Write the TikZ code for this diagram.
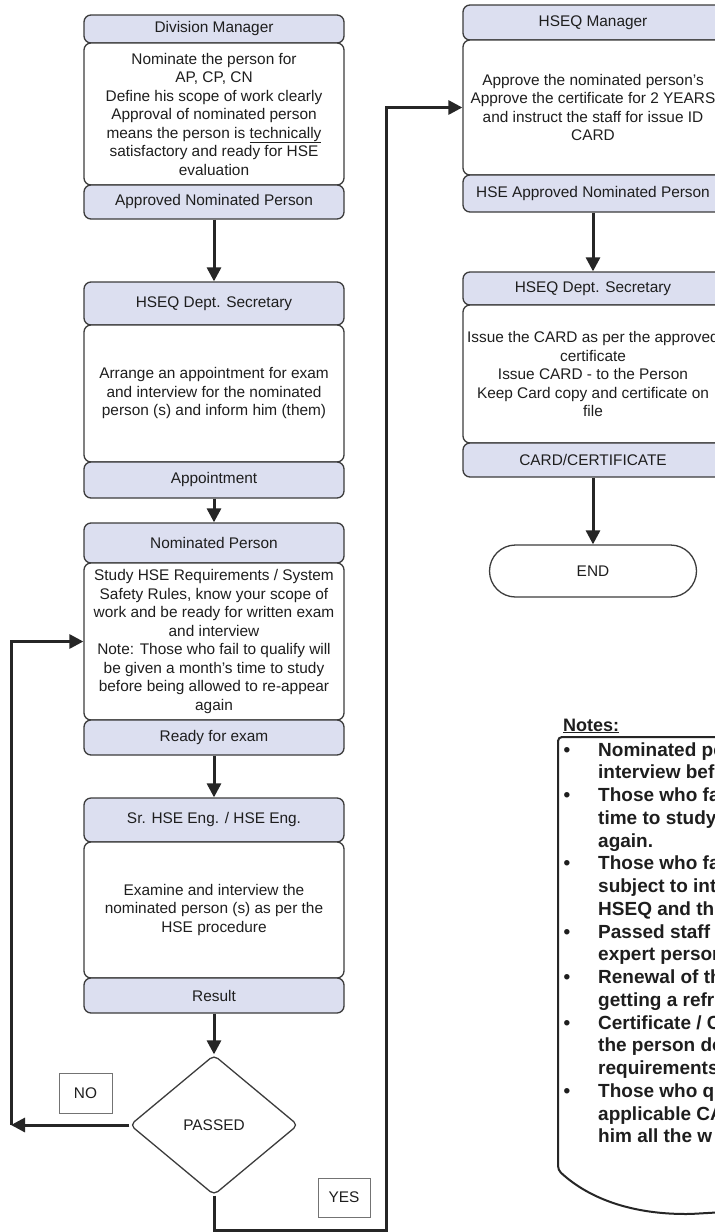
\documentclass[tikz,border=0pt]{standalone}
\usepackage{fontspec}
\setmainfont{Liberation Sans}
\usetikzlibrary{arrows.meta,shapes.geometric}
\definecolor{hdrfill}{RGB}{220,223,240}
\definecolor{edge}{RGB}{60,60,60}
\definecolor{ink}{RGB}{30,30,30}
\tikzset{
  part/.style={draw=edge, line width=1.3pt, rounded corners=7pt, inner sep=0pt, align=center, text=ink,
    font=\fontsize{15.4}{18.5}\selectfont},
  hdr/.style={part, fill=hdrfill},
  bodybox/.style={part, fill=white},
  lcol/.style={minimum width=260pt},
  flow/.style={line width=3pt, draw=black!85, -{Triangle[length=14pt,width=14pt]}},
  tag/.style={draw=black!55, line width=0.8pt, inner sep=0pt, text=ink, font=\fontsize{15.4}{18.5}\selectfont},
  notetxt/.style={anchor=base west, inner sep=0pt, text=ink, font=\bfseries\fontsize{19}{22.75}\selectfont},
  bullet/.style={anchor=base, inner sep=0pt, text=ink, font=\bfseries\fontsize{19}{22}\selectfont},
}
\begin{document}
\begin{tikzpicture}[x=1pt,y=-1pt]
\useasboundingbox (0,0) rectangle (715,1232);
\clip (0,0) rectangle (715,1232);
\fill[white] (0,0) rectangle (715,1232);

% ---------- left column ----------
\node[hdr, lcol, minimum height=28pt] (dmh) at (214,29) {Division Manager};
\node[bodybox, lcol, minimum height=142pt] (dmb) at (214,114) {Nominate the person for\\AP, CP, CN\\Define his scope of work clearly\\Approval of nominated person\\means the person is \underline{technically}\\satisfactory and ready for HSE\\evaluation};
\node[hdr, lcol, minimum height=34pt] (dmf) at (214,202) {Approved Nominated Person};

\node[hdr, lcol, minimum height=43pt] (lsh) at (214,303.5) {HSEQ Dept. Secretary};
\node[bodybox, lcol, minimum height=137pt] (lsb) at (214,393.5) {Arrange an appointment for exam\\and interview for the nominated\\person (s) and inform him (them)};
\node[hdr, lcol, minimum height=36pt] (lsf) at (214,480) {Appointment};

\node[hdr, lcol, minimum height=40pt] (nph) at (214,543) {Nominated Person};
\node[bodybox, lcol, minimum height=157pt] (npb) at (214,641.5) {Study HSE Requirements / System\\Safety Rules, know your scope of\\work and be ready for written exam\\and interview\\Note: Those who fail to qualify will\\be given a month's time to study\\before being allowed to re-appear\\again};
\node[hdr, lcol, minimum height=35pt] (npf) at (214,737.5) {Ready for exam};

\node[hdr, lcol, minimum height=44pt] (seh) at (214,820) {Sr. HSE Eng. / HSE Eng.};
\node[bodybox, lcol, minimum height=136pt] (seb) at (214,910) {Examine and interview the\\nominated person (s) as per the\\HSE procedure};
\node[hdr, lcol, minimum height=35pt] (sef) at (214,995.5) {Result};

\node[draw=edge, line width=1.3pt, diamond, minimum width=168pt, minimum height=140pt, inner sep=0pt,
  rounded corners=5pt, fill=white, text=ink, font=\fontsize{15.4}{18.5}\selectfont] (dia) at (214,1125) {PASSED};

\node[tag, minimum width=53pt, minimum height=40pt] (no) at (85.5,1093) {NO};
\node[tag, minimum width=52pt, minimum height=39pt] (yes) at (344,1197.5) {YES};

% ---------- right column ----------
\node[hdr, lcol, minimum height=35pt] (hmh) at (593,22.5) {HSEQ Manager};
\node[bodybox, lcol, minimum height=135pt] (hmb) at (593,107.5) {Approve the nominated person's\\Approve the certificate for 2 YEARS\\and instruct the staff for issue ID\\CARD};
\node[hdr, lcol, minimum height=37pt] (hmf) at (593,193.5) {HSE Approved Nominated Person};

\node[hdr, lcol, minimum height=33pt] (rsh) at (593,288.5) {HSEQ Dept. Secretary};
\node[bodybox, lcol, minimum height=138pt] (rsb) at (593,374) {Issue the CARD as per the approved\\certificate\\Issue CARD - to the Person\\Keep Card copy and certificate on\\file};
\node[hdr, lcol, minimum height=34pt] (rsf) at (593,460) {CARD/CERTIFICATE};

\node[part, rounded corners=26pt, minimum width=207pt, minimum height=52pt, fill=white] (end) at (593,571) {END};

% ---------- connectors ----------
\draw[flow] (dmf.south) -- (lsh.north);
\draw[flow] (lsf.south) -- (nph.north);
\draw[flow] (npf.south) -- (seh.north);
\draw[flow] (sef.south) -- (dia.north);
\coordinate (nol) at (11,1125);
\draw[flow] (dia.west) -- (nol);
\draw[flow] (nol) |- (npb.west);
\coordinate (yb) at (214,1230);
\coordinate (yr) at (386,1230);
\coordinate (yt) at (386,107.5);
\draw[flow] (dia.south) -- (yb) -- (yr) -- (yt) -- (hmb.west);
\draw[flow] (hmf.south) -- (rsh.north);
\draw[flow] (rsf.south) -- (end.north);

% ---------- notes ----------
\node[anchor=base west, inner sep=0pt, text=ink, font=\bfseries\fontsize{18}{20}\selectfont] (notesh) at (563,731) {\underline{Notes:}};
\draw[line width=2pt, draw=black!85, rounded corners=4pt] (725,737) -- (558,737) -- (558,1170)
  .. controls (585,1195) and (625,1214) .. (690,1214) -- (725,1212);

\foreach \i/\t in {0/{Nominated pe},1/{interview bef},2/{Those who fa},3/{time to study},4/{again.},5/{Those who fa},
  6/{subject to int},7/{HSEQ and the},8/{Passed staff},9/{expert person},10/{Renewal of th},11/{getting a refr},
  12/{Certificate / C},13/{the person do},14/{requirements},15/{Those who q},16/{applicable CA},17/{him all the w}}{
  \node[notetxt] (nl\i) at (598,756+22.75*\i) {\t};
}
\foreach \i in {0,2,5,8,10,12,15}{
  \node[bullet] (nb\i) at (567,756+22.75*\i) {•};
}
\end{tikzpicture}
\end{document}
